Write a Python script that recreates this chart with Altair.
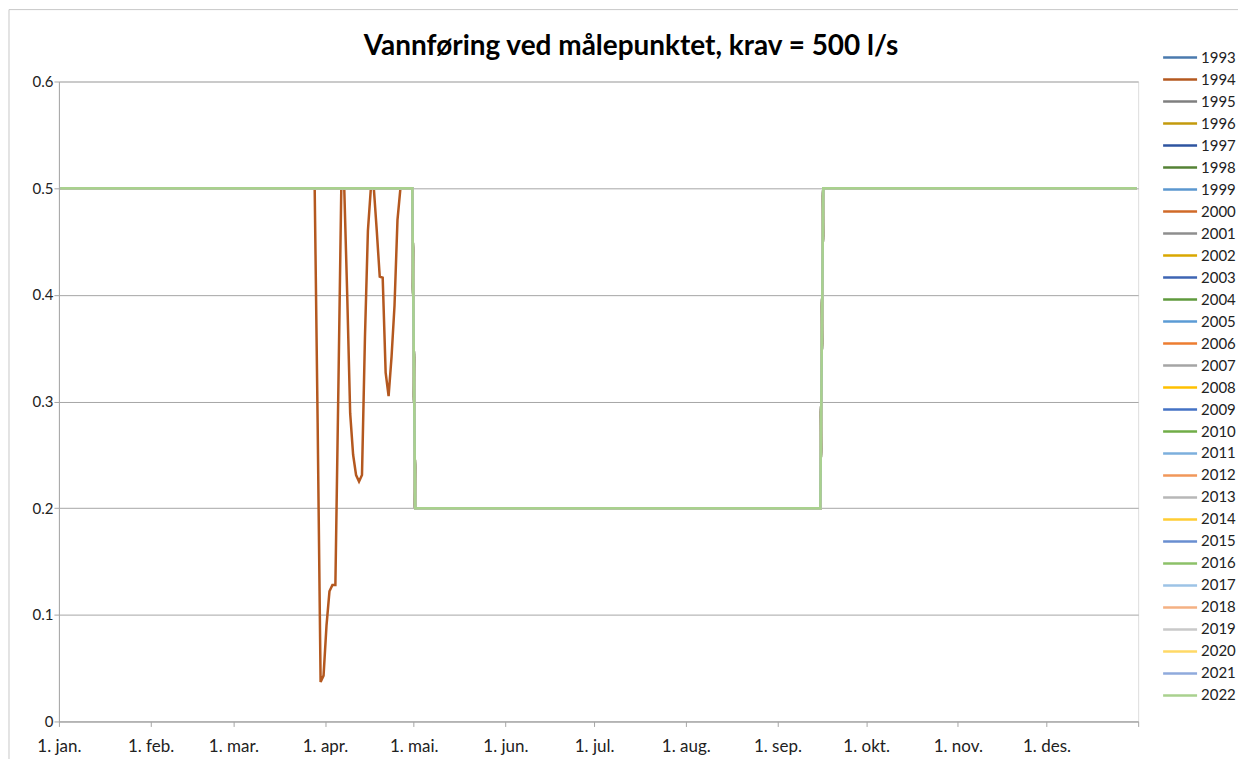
import altair as alt
import pandas as pd

# ---- data ----
title_text = "Vannføring ved målepunktet, krav = 500 l/s"
years = [str(y) for y in range(1993, 2023)]
colors = [
    "#4A7AAE", "#B4581F", "#7F7F7F", "#C39A0C", "#2E54A0", "#548235",
    "#5B97CF", "#D06A28", "#8E8E8E", "#D9A700", "#3E65B3", "#5F9A3D",
    "#5B9BD5", "#ED7D31", "#A5A5A5", "#FFC000", "#4472C4", "#70AD47",
    "#7CAFDD", "#F1975A", "#B7B7B7", "#FFCD33", "#698ED0", "#8CC168",
    "#9DC3E6", "#F4B183", "#C9C9C9", "#FFD966", "#8FAADC", "#A9D18E",
]

# requirement (m3/s) for each period: value applies from start date onwards
step_starts = ["2021-01-01", "2021-05-01", "2021-09-16"]
step_values = [0.5, 0.2, 0.5]

# 1994 deviates from the requirement in spring
dip_year = "1994"
dip_dates = [
    "2021-03-28", "2021-03-29", "2021-03-30", "2021-03-31", "2021-04-01",
    "2021-04-02", "2021-04-03", "2021-04-04", "2021-04-05", "2021-04-06",
    "2021-04-07", "2021-04-08", "2021-04-09", "2021-04-10", "2021-04-11",
    "2021-04-12", "2021-04-13", "2021-04-14", "2021-04-15", "2021-04-16",
    "2021-04-17", "2021-04-18", "2021-04-19", "2021-04-20", "2021-04-21",
    "2021-04-22", "2021-04-23", "2021-04-24", "2021-04-25", "2021-04-26",
]
dip_values = [
    0.5, 0.28, 0.037, 0.043, 0.09, 0.122, 0.128, 0.128, 0.31, 0.5,
    0.5, 0.40, 0.289, 0.25, 0.231, 0.225, 0.231, 0.36, 0.46, 0.5,
    0.5, 0.46, 0.417, 0.416, 0.327, 0.305, 0.342, 0.39, 0.47, 0.5,
]

month_labels = ["jan.", "feb.", "mar.", "apr.", "mai.", "jun.", "jul.",
                "aug.", "sep.", "okt.", "nov.", "des."]

# ---- build table ----
days = pd.date_range("2021-01-01", "2021-12-31", freq="D")
starts = pd.to_datetime(step_starts)
base = []
for d in days:
    v = step_values[0]
    for s, sv in zip(starts, step_values):
        if d >= s:
            v = sv
    base.append(v)
dips = dict(zip(pd.to_datetime(dip_dates), dip_values))

HALF_DAY = 12 * 3600 * 1000  # Excel date axis plots points mid-day
rows = []
for y in years:
    for d, v in zip(days, base):
        val = dips.get(d, v) if y == dip_year else v
        rows.append({"t": int(d.value // 10**6) + HALF_DAY, "value": val, "year": y})
df = pd.DataFrame(rows)

tick_vals = [int(t.value // 10**6) for t in pd.date_range("2021-01-01", "2022-01-01", freq="MS")]
x_domain = [tick_vals[0], tick_vals[-1]]

FONT = "Lato"
label_expr = ("utcyear(datum.value) > 2021 ? '' : '1. ' + "
              + "[" + ",".join(f"'{m}'" for m in month_labels) + "][utcmonth(datum.value)]")

color = alt.Color("year:N", scale=alt.Scale(domain=years, range=colors), legend=None)

lines = alt.Chart(df).mark_line(strokeWidth=2.5, interpolate="linear").encode(
    x=alt.X("t:T", scale=alt.Scale(type="utc", domain=x_domain),
            axis=alt.Axis(values=tick_vals, labelExpr=label_expr, title=None,
                          grid=False, tickSize=5, labelPadding=12,
                          domainColor="#a6a6a6", tickColor="#a6a6a6",
                          labelFont=FONT, labelFontSize=17, labelColor="#222222",
                          labelAngle=0, labelAlign="center", labelBound=False,
                          labelOverlap=False, labelFlush=False)),
    y=alt.Y("value:Q", scale=alt.Scale(domain=[0, 0.6], nice=False, zero=True),
            axis=alt.Axis(values=[0, 0.1, 0.2, 0.3, 0.4, 0.5, 0.6], format=".1~f",
                          title=None, grid=True, gridColor="#a6a6a6", gridWidth=1,
                          tickSize=5, labelPadding=1, domainColor="#a6a6a6",
                          tickColor="#a6a6a6", labelFont=FONT, labelFontSize=15,
                          labelColor="#222222")),
    color=color,
    detail="year:N",
)

leg_df = pd.DataFrame({"year": years})
leg_y = alt.Y("year:N", scale=alt.Scale(type="point", domain=years, range=[-24, 615], padding=0),
              axis=None)
leg_rules = alt.Chart(leg_df).mark_rule(strokeWidth=2.5).encode(
    x=alt.value(1106), x2=alt.value(1140), y=leg_y, color=color)
leg_text = alt.Chart(leg_df).mark_text(align="left", baseline="middle", font=FONT,
                                       fontSize=15, color="#222222").encode(
    x=alt.value(1144), y=leg_y, text="year:N")

one = pd.DataFrame({"a": [0]})
border_top = alt.Chart(one).mark_rule(color="#c8c8c8", strokeWidth=1).encode(
    x=alt.value(-50), x2=alt.value(1181), y=alt.value(-72))
border_left = alt.Chart(one).mark_rule(color="#c8c8c8", strokeWidth=1).encode(
    x=alt.value(-50), y=alt.value(-72), y2=alt.value(720))
title = alt.Chart(one).mark_text(font=FONT, fontSize=28, fontWeight="bold", color="#000000",
                                 align="center", baseline="alphabetic").encode(
    x=alt.value(573), y=alt.value(-27), text=alt.value(title_text))

chart = alt.layer(border_top, border_left, title, lines, leg_rules, leg_text).resolve_scale(
    y="independent"
).properties(
    width=1081, height=641,
    autosize=alt.AutoSizeParams(type="none"),
    padding={"left": 51, "top": 73, "right": 100, "bottom": 37},
).configure_view(stroke=None).configure(background="white")

chart.save("out.html", embed_options={"renderer": "svg", "actions": False})
